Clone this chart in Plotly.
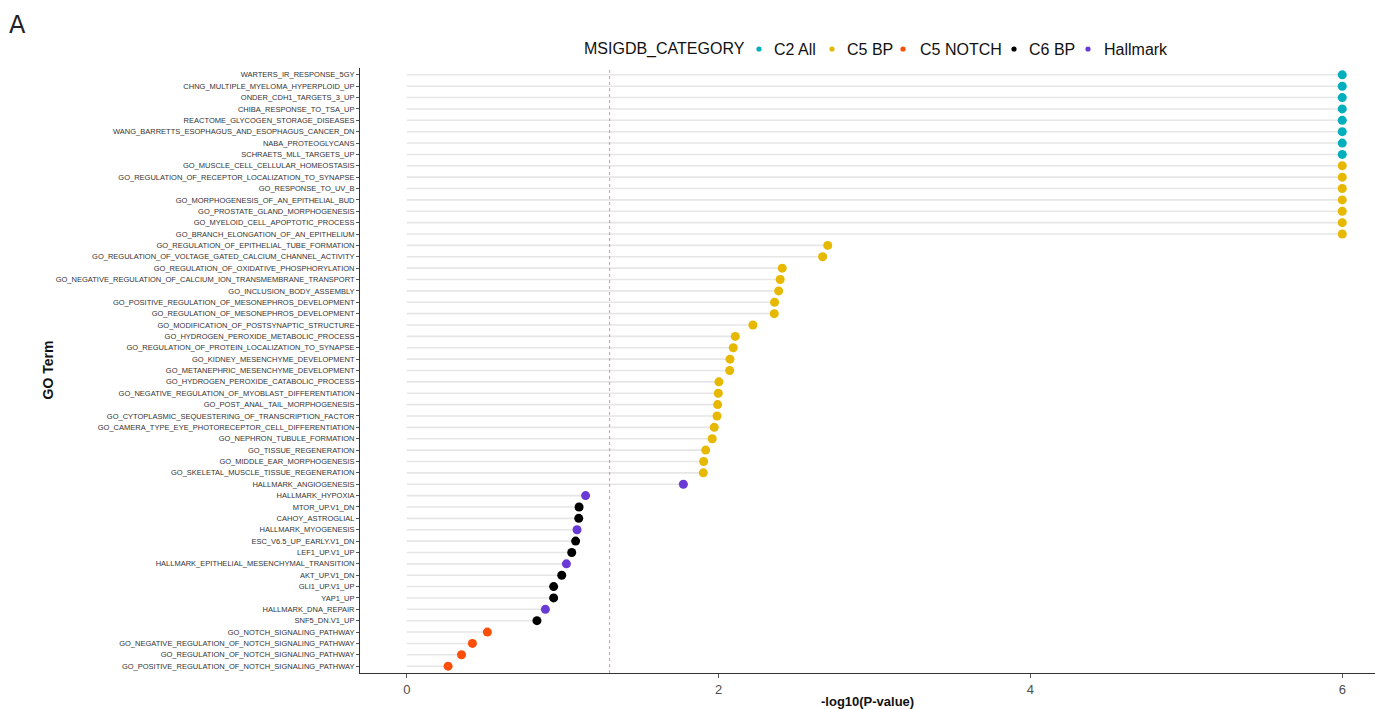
import numpy as np
import plotly.graph_objects as go

terms = [
    "WARTERS_IR_RESPONSE_5GY",
    "CHNG_MULTIPLE_MYELOMA_HYPERPLOID_UP",
    "ONDER_CDH1_TARGETS_3_UP",
    "CHIBA_RESPONSE_TO_TSA_UP",
    "REACTOME_GLYCOGEN_STORAGE_DISEASES",
    "WANG_BARRETTS_ESOPHAGUS_AND_ESOPHAGUS_CANCER_DN",
    "NABA_PROTEOGLYCANS",
    "SCHRAETS_MLL_TARGETS_UP",
    "GO_MUSCLE_CELL_CELLULAR_HOMEOSTASIS",
    "GO_REGULATION_OF_RECEPTOR_LOCALIZATION_TO_SYNAPSE",
    "GO_RESPONSE_TO_UV_B",
    "GO_MORPHOGENESIS_OF_AN_EPITHELIAL_BUD",
    "GO_PROSTATE_GLAND_MORPHOGENESIS",
    "GO_MYELOID_CELL_APOPTOTIC_PROCESS",
    "GO_BRANCH_ELONGATION_OF_AN_EPITHELIUM",
    "GO_REGULATION_OF_EPITHELIAL_TUBE_FORMATION",
    "GO_REGULATION_OF_VOLTAGE_GATED_CALCIUM_CHANNEL_ACTIVITY",
    "GO_REGULATION_OF_OXIDATIVE_PHOSPHORYLATION",
    "GO_NEGATIVE_REGULATION_OF_CALCIUM_ION_TRANSMEMBRANE_TRANSPORT",
    "GO_INCLUSION_BODY_ASSEMBLY",
    "GO_POSITIVE_REGULATION_OF_MESONEPHROS_DEVELOPMENT",
    "GO_REGULATION_OF_MESONEPHROS_DEVELOPMENT",
    "GO_MODIFICATION_OF_POSTSYNAPTIC_STRUCTURE",
    "GO_HYDROGEN_PEROXIDE_METABOLIC_PROCESS",
    "GO_REGULATION_OF_PROTEIN_LOCALIZATION_TO_SYNAPSE",
    "GO_KIDNEY_MESENCHYME_DEVELOPMENT",
    "GO_METANEPHRIC_MESENCHYME_DEVELOPMENT",
    "GO_HYDROGEN_PEROXIDE_CATABOLIC_PROCESS",
    "GO_NEGATIVE_REGULATION_OF_MYOBLAST_DIFFERENTIATION",
    "GO_POST_ANAL_TAIL_MORPHOGENESIS",
    "GO_CYTOPLASMIC_SEQUESTERING_OF_TRANSCRIPTION_FACTOR",
    "GO_CAMERA_TYPE_EYE_PHOTORECEPTOR_CELL_DIFFERENTIATION",
    "GO_NEPHRON_TUBULE_FORMATION",
    "GO_TISSUE_REGENERATION",
    "GO_MIDDLE_EAR_MORPHOGENESIS",
    "GO_SKELETAL_MUSCLE_TISSUE_REGENERATION",
    "HALLMARK_ANGIOGENESIS",
    "HALLMARK_HYPOXIA",
    "MTOR_UP.V1_DN",
    "CAHOY_ASTROGLIAL",
    "HALLMARK_MYOGENESIS",
    "ESC_V6.5_UP_EARLY.V1_DN",
    "LEF1_UP.V1_UP",
    "HALLMARK_EPITHELIAL_MESENCHYMAL_TRANSITION",
    "AKT_UP.V1_DN",
    "GLI1_UP.V1_UP",
    "YAP1_UP",
    "HALLMARK_DNA_REPAIR",
    "SNF5_DN.V1_UP",
    "GO_NOTCH_SIGNALING_PATHWAY",
    "GO_NEGATIVE_REGULATION_OF_NOTCH_SIGNALING_PATHWAY",
    "GO_REGULATION_OF_NOTCH_SIGNALING_PATHWAY",
    "GO_POSITIVE_REGULATION_OF_NOTCH_SIGNALING_PATHWAY",
]

neg_log10_p = [
    6, 6, 6, 6, 6, 6, 6, 6,
    6, 6, 6, 6, 6, 6, 6,
    2.70, 2.667, 2.408, 2.395, 2.385, 2.359, 2.357, 2.22,
    2.107, 2.094, 2.073, 2.071, 2.002, 1.998, 1.994, 1.99,
    1.972, 1.959, 1.917, 1.904, 1.902,
    1.774, 1.147, 1.105, 1.103, 1.092, 1.083, 1.058, 1.024,
    0.994, 0.942, 0.942, 0.889, 0.835,
    0.517, 0.421, 0.351, 0.265,
]

category = (
    ["C2 All"] * 8
    + ["C5 BP"] * 28
    + ["Hallmark", "Hallmark", "C6 BP", "C6 BP", "Hallmark", "C6 BP", "C6 BP",
       "Hallmark", "C6 BP", "C6 BP", "C6 BP", "Hallmark", "C6 BP"]
    + ["C5 NOTCH"] * 4
)

category_order = ["C2 All", "C5 BP", "C5 NOTCH", "C6 BP", "Hallmark"]
category_colors = {
    "C2 All": "#00AFBB",
    "C5 BP": "#E7B800",
    "C5 NOTCH": "#FC4E07",
    "C6 BP": "#000000",
    "Hallmark": "#6A3AD6",
}
legend_title = "MSIGDB_CATEGORY"
p_threshold = -np.log10(0.05)

FONT = "Liberation Sans, Arial, Helvetica, sans-serif"

# layout geometry (pixels)
W, H = 1375, 709
ML, MR, MT, MB = 360, 0, 68, 36
PW, PH = W - ML - MR, H - MT - MB


def px_x(px):
    return (px - ML) / PW


def px_y(py):
    return 1 + (MT - py) / PH


fig = go.Figure()

# lollipop stems
seg_x, seg_y = [], []
for t, v in zip(terms, neg_log10_p):
    seg_x += [0, v, None]
    seg_y += [t, t, None]
fig.add_trace(go.Scatter(
    x=seg_x, y=seg_y, mode="lines",
    line=dict(color="#e6e6e6", width=1.6),
    showlegend=False, hoverinfo="skip",
))

for cat in category_order:
    xs = [v for v, c in zip(neg_log10_p, category) if c == cat]
    ys = [t for t, c in zip(terms, category) if c == cat]
    fig.add_trace(go.Scatter(
        x=xs, y=ys, mode="markers", name=cat,
        marker=dict(color=category_colors[cat], size=9, line=dict(width=0)),
    ))

shapes = [dict(
    type="line", xref="x", yref="paper",
    x0=p_threshold, x1=p_threshold, y0=0, y1=1,
    line=dict(color="rgb(255,60,60)", width=1, dash="dot"),
    opacity=0.6,
    layer="above",
)]

annotations = [
    dict(text="<b>-log10(P-value)</b>", x=0.5, y=0.0, xref="paper", yref="paper",
         xanchor="center", yanchor="top", yshift=-19, showarrow=False,
         font=dict(size=13, color="#111111", family=FONT)),
    dict(text="<b>GO Term</b>", xref="paper", yref="paper",
         x=0, y=0.5, xshift=-313, xanchor="center", yanchor="middle",
         showarrow=False, textangle=-90,
         font=dict(size=14, color="#111111", family=FONT)),
    dict(text="A", xref="paper", yref="paper", x=0, y=1,
         xshift=-353, yshift=59, xanchor="left", yanchor="top",
         showarrow=False, font=dict(size=24, color="#222222", family="DejaVu Sans, sans-serif")),
]

# custom horizontal legend (pixel layout matching the reference)
LEG_Y = 49
leg_font = dict(size=16, color="#111111", family=FONT)
annotations.append(dict(text=legend_title, xref="paper", yref="paper",
                        x=px_x(582), y=px_y(LEG_Y), xanchor="left", yanchor="middle",
                        showarrow=False, font=leg_font))
marker_px = [759, 832, 903, 1014, 1088]
text_px = [772, 845, 918, 1027, 1102]
r = 2.6
for cat, mx, tx in zip(category_order, marker_px, text_px):
    shapes.append(dict(type="circle", xref="paper", yref="paper",
                       x0=px_x(mx - r), x1=px_x(mx + r),
                       y0=px_y(LEG_Y + r), y1=px_y(LEG_Y - r),
                       fillcolor=category_colors[cat], line=dict(width=0)))
    annotations.append(dict(text=cat, xref="paper", yref="paper",
                            x=px_x(tx), y=px_y(LEG_Y), xanchor="left", yanchor="middle",
                            showarrow=False, font=leg_font))

fig.update_layout(
    width=W, height=H,
    margin=dict(l=ML, r=MR, t=MT, b=MB, pad=0),
    paper_bgcolor="white", plot_bgcolor="white",
    font=dict(family=FONT, color="#333333"),
    showlegend=False,
    xaxis=dict(
        range=[-0.3, 6.21],
        tickvals=[0, 2, 4, 6],
        ticks="outside", ticklen=4, tickcolor="#555555",
        tickfont=dict(size=13, color="#4d4d4d"),
        showgrid=False, zeroline=False,
        showline=True, linecolor="#333333", linewidth=1,
    ),
    yaxis=dict(
        categoryorder="array",
        categoryarray=list(reversed(terms)),
        range=[-0.6, len(terms) - 0.4],
        ticks="outside", ticklen=3, tickcolor="#555555",
        tickfont=dict(size=7.5, color="#333333"),
        showgrid=False, zeroline=False,
        showline=True, linecolor="#333333", linewidth=1,
    ),
    shapes=shapes,
    annotations=annotations,
)

fig.write_html("out.html")
